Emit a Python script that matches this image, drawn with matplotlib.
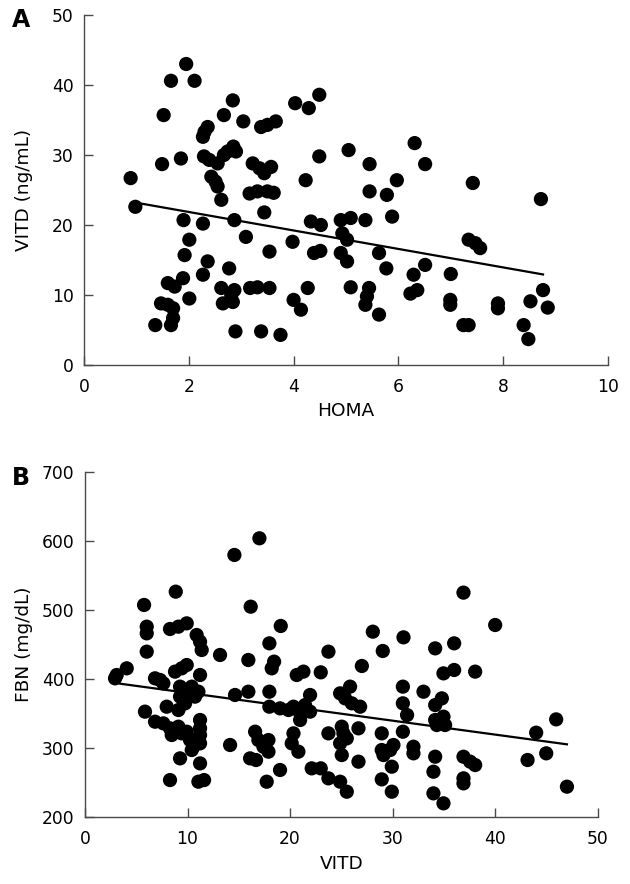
import matplotlib
matplotlib.use("Agg")
import matplotlib.pyplot as plt
import numpy as np

# Panel A: HOMA vs VITD
homa = [0.89, 0.98, 1.52, 1.66, 1.95, 2.11, 1.49, 1.85, 1.90, 2.27, 2.01, 1.92, 2.30, 2.36, 2.27,
        2.29, 2.39, 2.43, 2.51, 2.55, 2.62, 2.55, 2.67, 2.74, 2.85, 2.90, 2.67, 2.84, 3.04, 2.87,
        3.09, 3.22, 3.35, 3.44, 3.57, 3.16, 3.31, 3.50, 3.62, 3.44, 3.38, 3.50, 3.66, 3.54, 3.98,
        4.03, 4.29, 4.49, 4.49, 4.23, 4.33, 4.52, 4.39, 4.51, 4.27, 4.00, 4.14, 3.75, 3.38, 2.89,
        3.31, 3.54, 3.17, 2.77, 2.62, 2.87, 2.65, 2.84, 2.81, 2.01, 2.36, 2.27, 1.89, 1.73, 1.60,
        1.47, 1.60, 1.70, 1.70, 1.66, 1.36,
        5.05, 5.45, 6.31, 6.51, 5.97, 5.45, 5.78, 5.88, 7.42, 8.72, 4.90, 5.09, 5.37, 4.93, 5.02,
        4.90, 5.02, 5.63, 5.77, 5.09, 5.44, 5.40, 5.37, 5.63, 6.29, 6.51, 6.23, 6.36, 7.00, 6.99,
        6.99, 7.24, 7.34, 7.34, 7.47, 7.56, 7.90, 7.90, 8.39, 8.48, 8.52, 8.76, 8.85]
vitd_a = [26.7, 22.6, 35.7, 40.6, 43.0, 40.6, 28.7, 29.5, 20.7, 20.2, 17.9, 15.7, 33.3, 34.0, 32.6,
          29.8, 29.3, 26.9, 26.2, 25.5, 23.6, 28.8, 30.0, 30.5, 31.2, 30.5, 35.7, 37.8, 34.8, 20.7,
          18.3, 28.8, 28.1, 27.4, 28.3, 24.5, 24.8, 24.8, 24.6, 21.8, 34.0, 34.3, 34.8, 16.2, 17.6,
          37.4, 36.7, 38.6, 29.8, 26.4, 20.5, 20.0, 16.0, 16.3, 11.0, 9.3, 7.9, 4.3, 4.8, 4.8,
          11.1, 11.0, 11.0, 13.8, 11.0, 10.7, 8.8, 9.0, 10.0, 9.5, 14.8, 12.9, 12.4, 11.2, 11.7,
          8.8, 8.6, 8.1, 6.7, 5.7, 5.7,
          30.7, 28.7, 31.7, 28.7, 26.4, 24.8, 24.3, 21.2, 26.0, 23.7, 20.7, 21.0, 20.7, 18.8, 17.9,
          16.0, 14.8, 16.0, 13.8, 11.1, 11.0, 9.8, 8.6, 7.2, 12.9, 14.3, 10.2, 10.7, 13.0, 9.3,
          8.6, 5.7, 5.7, 17.9, 17.4, 16.7, 8.8, 8.1, 5.7, 3.7, 9.1, 10.7, 8.2]
fit_a_intercept, fit_a_slope = 24.5, -1.32
fit_a_range = [1.0, 8.76]

# Panel B: VITD vs FBN
vitd_b = [3.09, 4.07, 2.93, 5.76, 6.02, 6.02, 6.02, 5.85, 6.83, 7.32, 7.64, 6.83, 7.64, 7.97, 8.29,
          8.46, 9.11, 9.43, 8.29, 9.27, 8.85, 8.29, 9.11, 9.92, 8.78, 9.43, 9.92, 9.27, 9.92, 10.41,
          9.27, 10.08, 10.73, 11.06, 9.11, 9.76, 9.92, 10.24, 10.57, 11.22, 11.22, 11.22, 11.22, 10.41,
          10.89, 11.22, 11.38, 11.22, 11.22, 11.06, 11.61, 13.17, 14.15, 14.57, 14.63, 17.01, 16.16,
          15.93, 15.93, 16.59, 16.91, 17.40, 17.89, 17.89, 16.10, 16.68, 17.72, 19.02, 17.98, 18.21,
          18.44, 19.09, 17.98, 17.98, 19.02, 19.84, 20.33, 20.16, 20.81, 20.65, 21.30, 20.33, 20.98,
          21.46, 21.95, 20.98, 22.11, 22.99, 22.99, 23.74, 23.74, 23.74, 21.95,
          24.88, 25.37, 25.85, 26.02, 26.83, 25.04, 25.20, 24.88, 25.53, 25.04, 26.67, 26.67, 24.88,
          25.53, 27.00, 28.07, 29.04, 31.06, 28.94, 28.94, 29.11, 29.76, 30.08, 29.92, 28.94, 29.92,
          31.00, 31.00, 31.41, 31.00, 32.03, 32.03, 33.01, 34.15, 36.00, 36.91, 40.00, 34.96, 36.00,
          38.05, 34.15, 34.80, 34.15, 34.96, 34.31, 35.12, 34.15, 33.98, 33.98, 34.96, 36.91, 37.56,
          38.05, 36.91, 36.91, 44.00, 45.95, 43.16, 44.98, 47.00]
fbn = [405.7, 415.4, 400.9, 507.4, 475.9, 466.2, 439.6, 352.5, 400.9, 398.5, 393.6, 337.9, 335.5,
       359.7, 328.3, 318.6, 330.7, 321.0, 253.2, 284.7, 526.7, 472.5, 475.9, 480.7, 410.6, 415.4,
       420.2, 388.8, 383.9, 388.8, 374.3, 379.1, 374.3, 381.5, 354.9, 364.6, 323.4, 311.3, 301.6,
       306.5, 318.6, 340.4, 328.3, 296.8, 463.8, 454.1, 442.0, 405.7, 277.4, 250.8, 253.2, 434.8,
       304.1, 580.0, 376.7, 604.2, 504.9, 427.5, 381.5, 323.4, 311.3, 301.6, 294.4, 311.3, 284.7,
       282.3, 250.8, 267.8, 451.7, 415.4, 425.1, 476.9, 381.5, 359.7, 357.3, 354.9, 321.0, 306.5,
       294.4, 405.7, 410.6, 359.7, 350.0, 362.1, 376.7, 340.4, 270.2, 270.2, 409.6, 439.6, 321.0,
       255.7, 352.5,
       379.1, 371.8, 388.8, 364.6, 359.7, 330.7, 321.0, 306.5, 313.7, 289.5, 328.3, 279.9, 250.8,
       236.3, 418.8, 468.6, 440.6, 460.4, 321.0, 296.8, 289.5, 296.8, 304.1, 272.6, 254.2, 236.3,
       388.8, 364.6, 347.6, 323.4, 301.6, 292.0, 381.5, 444.4, 451.7, 525.3, 478.3, 408.1, 413.0,
       410.6, 362.1, 371.8, 340.4, 345.2, 333.1, 333.1, 287.1, 265.3, 233.9, 219.4, 287.1, 279.9,
       275.0, 255.7, 248.4, 322.0, 341.3, 282.3, 292.0, 243.6]
fit_b_intercept, fit_b_slope = 400.0, -2.02
fit_b_range = [3.4, 47.0]

plt.rcParams['font.family'] = ['DejaVu Sans']
W, H = 630, 884
fig = plt.figure(figsize=(W/100, H/100), dpi=100)

spine_col = '#4a4a4a'
TICK_FS = 12.3
LABEL_FS = 13.3

def style(ax):
    for s in ['top', 'right']:
        ax.spines[s].set_visible(False)
    for s in ['left', 'bottom']:
        ax.spines[s].set_color(spine_col)
        ax.spines[s].set_linewidth(1.0)
    ax.tick_params(direction='in', length=6.5, width=1.0, color=spine_col,
                   labelsize=TICK_FS)
    ax.tick_params(axis='x', pad=9.5)
    ax.tick_params(axis='y', pad=7.5)

# ---- Panel A ----
a_l, a_r, a_t, a_b = 84, 608, 15, 365
axA = fig.add_axes([a_l/W, 1-a_b/H, (a_r-a_l)/W, (a_b-a_t)/H])
axA.scatter(homa, vitd_a, s=105, c='black', edgecolors='none', zorder=3)
xa = np.array(fit_a_range)
axA.plot(xa, fit_a_intercept + fit_a_slope*xa, color='black', lw=1.6, zorder=4)
axA.set_xlim(0, 10)
axA.set_ylim(0, 50)
axA.set_xticks([0, 2, 4, 6, 8, 10])
axA.set_yticks([0, 10, 20, 30, 40, 50])
axA.set_xlabel('HOMA', fontsize=LABEL_FS)
axA.set_ylabel('VITD (ng/mL)', fontsize=LABEL_FS)
axA.xaxis.set_label_coords(0.5, (a_b-402)/(a_b-a_t))
axA.yaxis.set_label_coords((33-a_l)/(a_r-a_l), 0.5)
style(axA)
fig.text(12/W, 1-20/H, 'A', fontsize=17, fontweight='bold', va='center', ha='left')

# ---- Panel B ----
b_l, b_r, b_t, b_b = 85, 597.7, 472.3, 816.7
axB = fig.add_axes([b_l/W, 1-b_b/H, (b_r-b_l)/W, (b_b-b_t)/H])
axB.scatter(vitd_b, fbn, s=105, c='black', edgecolors='none', zorder=3)
xb = np.array(fit_b_range)
axB.plot(xb, fit_b_intercept + fit_b_slope*xb, color='black', lw=1.6, zorder=4)
axB.set_xlim(0, 50)
axB.set_ylim(200, 700)
axB.set_xticks([0, 10, 20, 30, 40, 50])
axB.set_yticks([200, 300, 400, 500, 600, 700])
axB.set_xlabel('VITD', fontsize=LABEL_FS)
axB.set_ylabel('FBN (mg/dL)', fontsize=LABEL_FS)
axB.xaxis.set_label_coords(0.5, (b_b-855)/(b_b-b_t))
axB.yaxis.set_label_coords((33-b_l)/(b_r-b_l), 0.5)
style(axB)
fig.text(12/W, 1-478/H, 'B', fontsize=17, fontweight='bold', va='center', ha='left')

fig.savefig('out.png', dpi=100)
